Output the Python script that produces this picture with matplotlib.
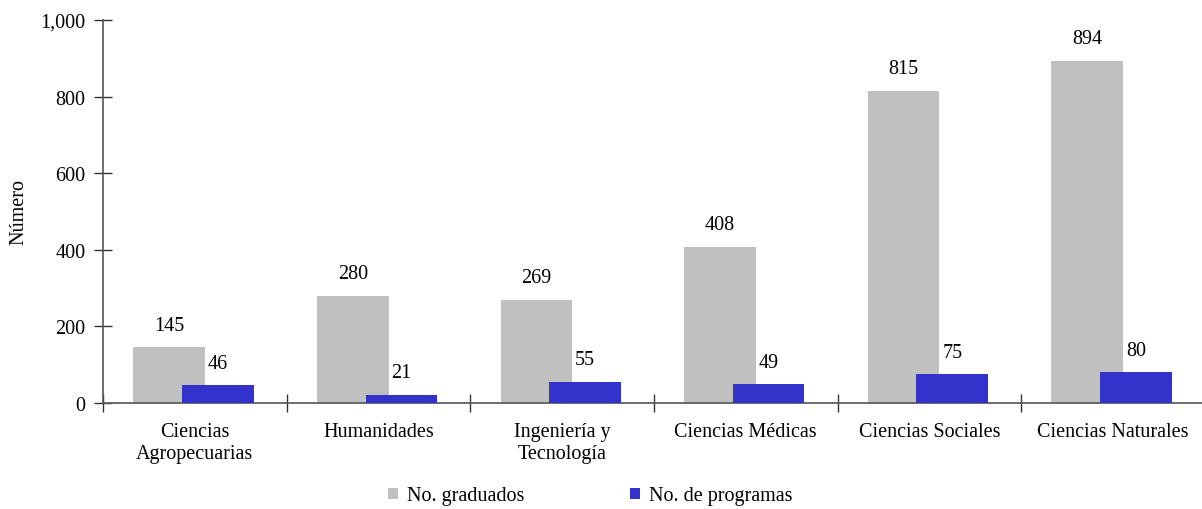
import matplotlib.pyplot as plt
from matplotlib.ticker import FuncFormatter

plt.rcParams['font.family'] = ['Liberation Serif', 'DejaVu Serif']

categorias = ['Ciencias\nAgropecuarias', 'Humanidades', 'Ingeniería y\nTecnología',
              'Ciencias Médicas', 'Ciencias Sociales', 'Ciencias Naturales']
graduados = [145, 280, 269, 408, 815, 894]
programas = [46, 21, 55, 49, 75, 80]

gris = '#C0C0C0'
azul = '#3333CC'
ancho = 0.39
fs = 14.5

fig = plt.figure(figsize=(12.02, 5.10), dpi=100)
ax = fig.add_axes([103/1202, 1 - 404/510, 1099/1202, 383/510])

x = range(len(categorias))
xg = [i + 0.36 for i in x]
xp = [i + 0.625 for i in x]
ax.bar(xg, graduados, width=ancho, color=gris, label='No. graduados', zorder=2)
ax.bar(xp, programas, width=ancho, color=azul, label='No. de programas', zorder=3)

for xi, v in zip(xg, graduados):
    ax.text(xi, v + 33, str(v), ha='center', va='bottom', fontsize=fs)
for xi, v in zip(xp, programas):
    ax.text(xi, v + 33, str(v), ha='center', va='bottom', fontsize=fs)

ax.set_xlim(0, 5.985)
ax.set_ylim(0, 1000)
ax.set_yticks([0, 200, 400, 600, 800, 1000])
ax.yaxis.set_major_formatter(FuncFormatter(lambda v, p: f'{int(v):,}'))
ax.set_xticks([0, 1, 2, 3, 4, 5])
ax.set_xticklabels([])
ax.set_xticks([i + 0.5 for i in x], minor=True)
ax.set_xticklabels(categorias, minor=True, fontsize=fs)
ax.tick_params(axis='x', which='minor', length=0, pad=14)
ax.tick_params(axis='x', which='major', direction='inout', length=13, width=1, color='#333333')
ax.tick_params(axis='y', direction='inout', length=13, width=1, color='#333333', labelsize=fs, pad=6)

for s in ['top', 'right']:
    ax.spines[s].set_visible(False)
for s in ['left', 'bottom']:
    ax.spines[s].set_color('#555555')
    ax.spines[s].set_linewidth(1.2)

ax.set_ylabel('Número', fontsize=fs)
ax.yaxis.set_label_coords(-0.068, 0.5)

fig.legend(loc='center', bbox_to_anchor=(590/1202, 1 - 497/510), ncol=2, frameon=False,
           fontsize=fs, handlelength=0.5, handleheight=0.5, handletextpad=0.45,
           columnspacing=5.25)

fig.savefig('out.png', dpi=100)
